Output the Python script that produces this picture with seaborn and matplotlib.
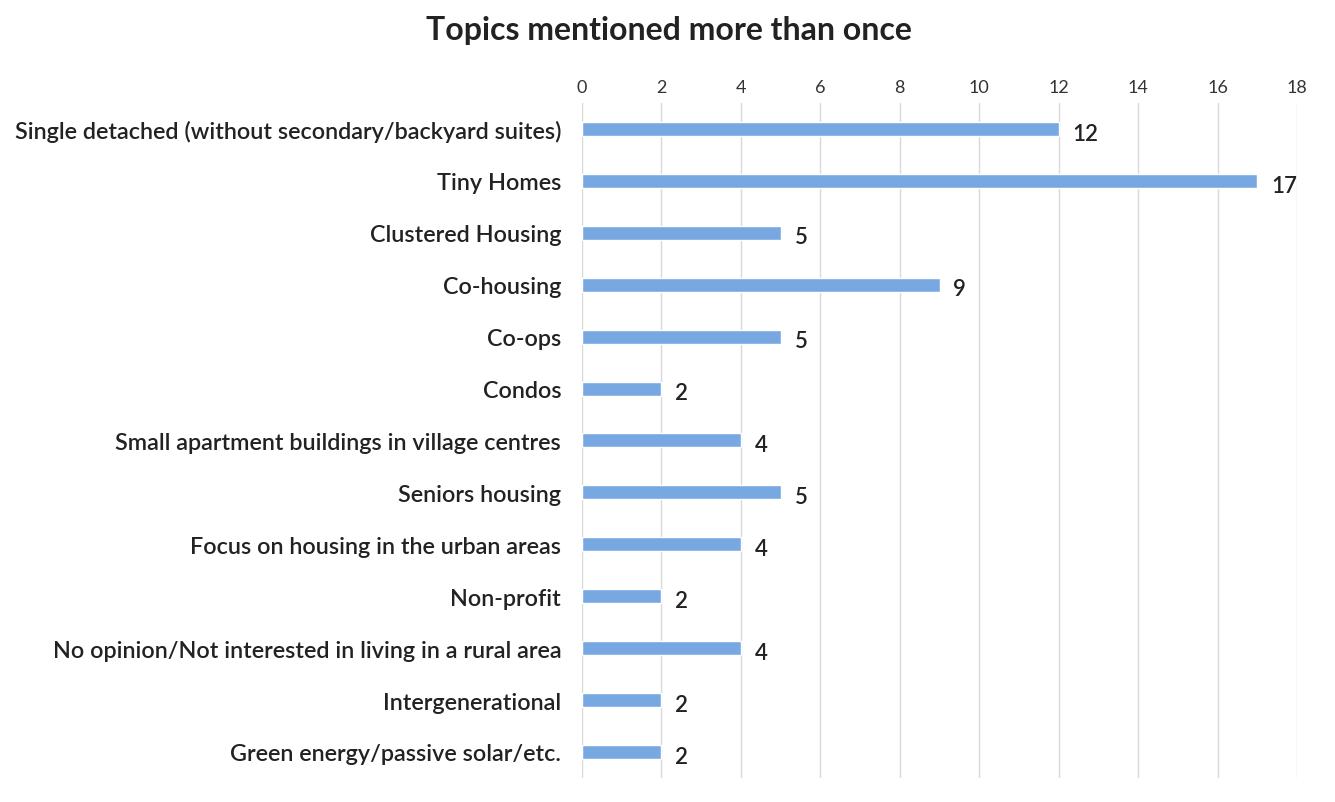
import pandas as pd
import matplotlib.pyplot as plt
import seaborn as sns

topics = [
    'Single detached (without secondary/backyard suites)',
    'Tiny Homes',
    'Clustered Housing',
    'Co-housing',
    'Co-ops',
    'Condos',
    'Small apartment buildings in village centres',
    'Seniors housing',
    'Focus on housing in the urban areas',
    'Non-profit',
    'No opinion/Not interested in living in a rural area',
    'Intergenerational',
    'Green energy/passive solar/etc.',
]
counts = [12, 17, 5, 9, 5, 2, 4, 5, 4, 2, 4, 2, 2]
x_ticks = list(range(0, 19, 2))

df = pd.DataFrame({'topic': topics, 'count': counts})

sns.set_style('white')
plt.rcParams['font.family'] = ['Lato', 'DejaVu Sans']

fig = plt.figure(figsize=(13.35, 8.03), dpi=100)
ax = fig.add_axes([0.436, 0.030, 0.5355, 0.8405])

sns.barplot(data=df, x='count', y='topic', color='#78a8e2', width=0.27,
            saturation=1, ax=ax, zorder=3)

for i, v in enumerate(counts):
    ax.text(v + 0.35, i + 0.08, str(v), va='center', ha='left',
            fontsize=16, fontweight='semibold', color='#222222')

ax.set_xlim(0, 18)
ax.set_ylim(12.5, -0.5)
ax.set_xticks(x_ticks)
ax.xaxis.tick_top()
ax.tick_params(axis='x', length=0, labelsize=13, colors='#333333', pad=6)
ax.tick_params(axis='y', length=0, labelsize=16.8, colors='#222222', pad=15)
for lbl in ax.get_yticklabels():
    lbl.set_fontweight('semibold')
ax.grid(axis='x', color='#d9d9d9', linewidth=1, zorder=0)
ax.set_xlabel('')
ax.set_ylabel('')
for s in ax.spines.values():
    s.set_visible(False)

fig.suptitle('Topics mentioned more than once', x=0.501, y=0.98,
             fontsize=23, fontweight='bold', color='#222222')

fig.savefig('out.png', dpi=100)
